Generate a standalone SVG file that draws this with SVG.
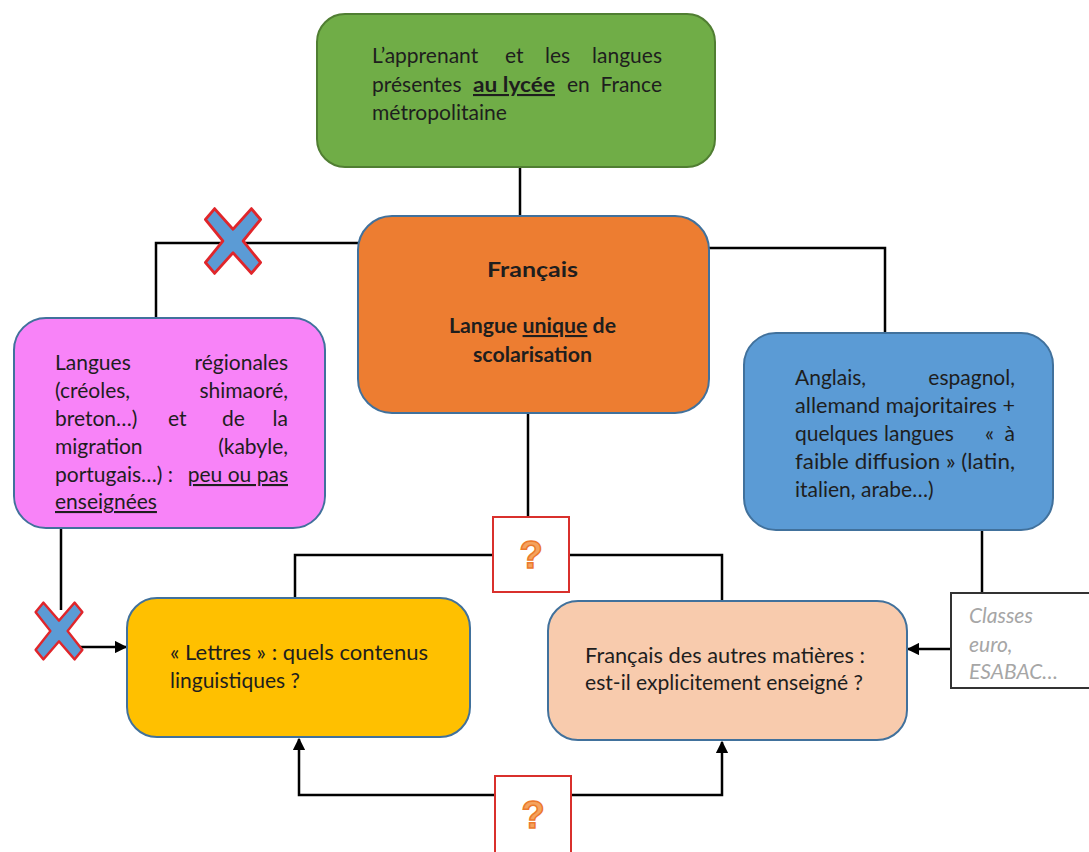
<svg xmlns="http://www.w3.org/2000/svg" width="1089" height="852" viewBox="0 0 1089 852">
<defs>
<style>
.t{font-family:Lato,"Open Sans","Liberation Sans",sans-serif;font-size:21px;fill:#1e1e1e}
.b{font-weight:bold}
.u{text-decoration:underline}
.e{text-anchor:end}
.m{text-anchor:middle}
.c{stroke:#000;stroke-width:2.5;fill:none}
.box{stroke:#41719c;stroke-width:2}
.xm{fill:#5b9bd5;stroke:#e0262b;stroke-width:3;stroke-linejoin:round}
.q{font-family:"Liberation Sans",sans-serif;font-weight:bold;font-size:38px;fill:#f4a35e;stroke:#ec7a2c;stroke-width:1.5;text-anchor:middle}
.qb{fill:#fff;stroke:#d9302c;stroke-width:2}
.cl{font-family:Lato,"Liberation Sans",sans-serif;font-style:italic;font-size:21px;fill:#a6a6a6}
</style>
<marker id="ah" viewBox="0 0 10 10" refX="9" refY="5" markerWidth="5" markerHeight="5" orient="auto" markerUnits="strokeWidth">
<path d="M0,0 L10,5 L0,10 z" fill="#000"/>
</marker>
<path id="xshape" d="M-30,-22 L-20,-33 L0,-12 L20,-33 L30,-22 L11,0 L30,22 L20,33 L0,12 L-20,33 L-30,22 L-11,0 Z"/>
</defs>
<rect width="1089" height="852" fill="#fff"/>

<g id="connectors">
<path class="c" d="M520,167 V216"/>
<path class="c" d="M359,243 H156 V318"/>
<path class="c" d="M709,248 H885 V333"/>
<path class="c" d="M528,413 V517"/>
<path class="c" d="M493,555 H295 V598"/>
<path class="c" d="M569,555 H722 V601"/>
<path class="c" d="M61,528 V610"/>
<path class="c" d="M80,647 H126" marker-end="url(#ah)"/>
<path class="c" d="M982,530 V593"/>
<path class="c" d="M950,649 H908" marker-end="url(#ah)"/>
<path class="c" d="M495,795 H299 V739" marker-end="url(#ah)"/>
<path class="c" d="M571,795 H722 V742" marker-end="url(#ah)"/>
</g>

<g id="node-apprenant">
<rect x="317" y="14" width="398" height="153" rx="28" fill="#70ad47" stroke="#507e32" stroke-width="2"/>
<text class="t" y="63"><tspan x="372">L’apprenant</tspan><tspan x="505">et</tspan><tspan x="545">les</tspan><tspan x="662" class="e">langues</tspan></text>
<text class="t" y="92"><tspan x="372">présentes</tspan><tspan x="473" class="b u" textLength="82" lengthAdjust="spacingAndGlyphs">au lycée</tspan><tspan x="567">en</tspan><tspan x="662" class="e">France</tspan></text>
<text class="t" x="372" y="120" textLength="135" lengthAdjust="spacingAndGlyphs">métropolitaine</text>
</g>

<g id="node-francais">
<rect x="358" y="216" width="351" height="197" rx="34" fill="#ed7d31" class="box"/>
<text class="t b" x="487" y="277" font-size="24" textLength="91" lengthAdjust="spacingAndGlyphs">Français</text>
<text class="t b" x="449" y="333" textLength="167" lengthAdjust="spacingAndGlyphs">Langue <tspan class="u">unique</tspan> de</text>
<text class="t b" x="473" y="362" textLength="119" lengthAdjust="spacingAndGlyphs">scolarisation</text>
</g>

<g id="node-regionales">
<rect x="14" y="318" width="311" height="210" rx="32" fill="#f883f8" class="box"/>
<text class="t" y="370"><tspan x="55">Langues</tspan><tspan x="288" class="e">régionales</tspan></text>
<text class="t" y="398"><tspan x="55">(créoles,</tspan><tspan x="288" class="e">shimaoré,</tspan></text>
<text class="t" y="426"><tspan x="55">breton…)</tspan><tspan x="168">et</tspan><tspan x="222">de</tspan><tspan x="288" class="e">la</tspan></text>
<text class="t" y="454"><tspan x="55">migration</tspan><tspan x="288" class="e">(kabyle,</tspan></text>
<text class="t" y="482"><tspan x="55">portugais…) :</tspan><tspan x="288" class="e u">peu ou pas</tspan></text>
<text class="t u" x="55" y="509">enseignées</text>
</g>

<g id="node-anglais">
<rect x="744" y="333" width="309" height="197" rx="32" fill="#5b9bd5" class="box"/>
<text class="t" y="385"><tspan x="795">Anglais,</tspan><tspan x="1015" class="e">espagnol,</tspan></text>
<text class="t" x="795" y="413" textLength="220" lengthAdjust="spacingAndGlyphs">allemand majoritaires +</text>
<text class="t" y="441"><tspan x="795">quelques</tspan><tspan x="884">langues</tspan><tspan x="985">«</tspan><tspan x="1015" class="e">à</tspan></text>
<text class="t" x="795" y="469" textLength="220" lengthAdjust="spacingAndGlyphs">faible diffusion » (latin,</text>
<text class="t" x="795" y="497">italien, arabe…)</text>
</g>

<g id="node-q1">
<rect x="493" y="517" width="76" height="75" class="qb"/>
<text class="q" x="531" y="568">?</text>
</g>

<g id="node-lettres">
<rect x="127" y="598" width="343" height="139" rx="30" fill="#ffc000" class="box"/>
<text class="t" x="170" y="660" textLength="258" lengthAdjust="spacingAndGlyphs">« Lettres » : quels contenus</text>
<text class="t" x="170" y="688">linguistiques ?</text>
</g>

<g id="node-autres">
<rect x="548" y="601" width="359" height="139" rx="30" fill="#f8cbad" class="box"/>
<text class="t" x="585" y="663" textLength="280" lengthAdjust="spacingAndGlyphs">Français des autres matières :</text>
<text class="t" x="585" y="690" textLength="278" lengthAdjust="spacingAndGlyphs">est-il explicitement enseigné ?</text>
</g>

<g id="node-classes">
<rect x="951" y="593" width="150" height="95" fill="#fff" stroke="#333" stroke-width="2"/>
<text class="cl" x="969" y="623">Classes</text>
<text class="cl" x="969" y="652">euro,</text>
<text class="cl" x="969" y="679">ESABAC…</text>
</g>

<g id="node-q2">
<rect x="495" y="776" width="76" height="90" class="qb"/>
<text class="q" x="533" y="828">?</text>
</g>

<g id="node-x1">
<use href="#xshape" class="xm" transform="translate(233,241) scale(0.92,0.98)"/>
</g>
<g id="node-x2">
<use href="#xshape" class="xm" transform="translate(59,631) scale(0.78,0.86)"/>
</g>
</svg>
